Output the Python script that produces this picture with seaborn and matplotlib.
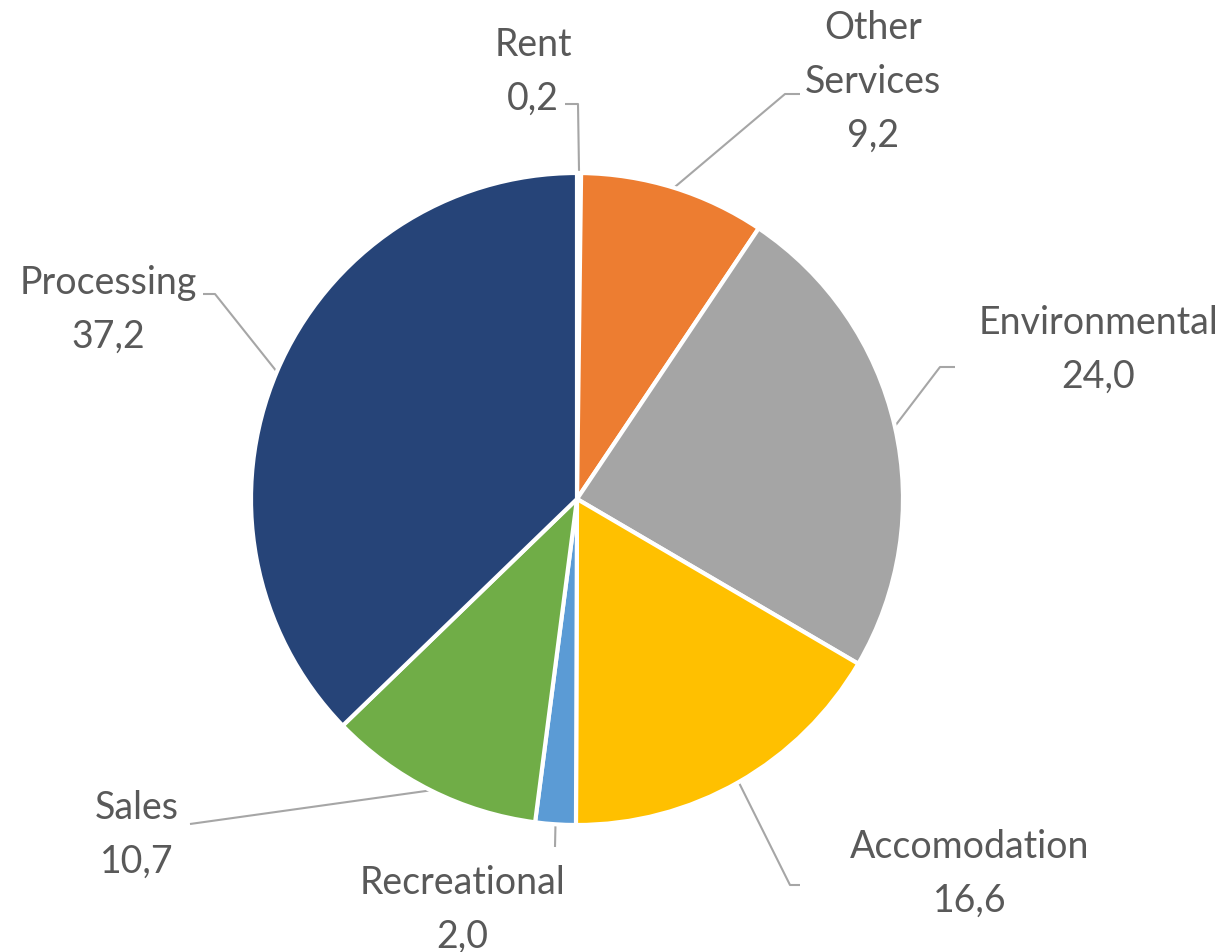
import numpy as np
import matplotlib.pyplot as plt
import seaborn as sns

# dane
categories = ["Rent", "Other\nServices", "Environmental", "Accomodation",
              "Recreational", "Sales", "Processing"]
values = [0.2, 9.2, 24.0, 16.6, 2.0, 10.7, 37.2]
value_labels = ["0,2", "9,2", "24,0", "16,6", "2,0", "10,7", "37,2"]
colors = ["#4472C4", "#ED7D31", "#A5A5A5", "#FFC000", "#5B9BD5", "#70AD47", "#264478"]

# paigutus pikslites (pildi koordinaadid): tekst ja murdepunkt
W, H = 1230, 953
CX, CY, R = 577, 500, 326
text_pos = [(533, 72), (873, 82), (1098, 350), (970, 874),
            (462, 910), (137, 835), (108, 310)]
elbows = [[(578, 105), (565, 105)],
          [(785, 95), (800, 95)],
          [(940, 368), (955, 368)],
          [(790, 886), (800, 886)],
          [(555, 848)],
          [(190, 825)],
          [(215, 295), (203, 295)]]


def px(p):
    return ((p[0] - CX) / R, (CY - p[1]) / R)


sns.set_theme(style="white")
plt.rcParams["font.family"] = ["Lato", "DejaVu Sans"]

fig = plt.figure(figsize=(W / 100, H / 100), dpi=100)
ax = fig.add_axes([0, 0, 1, 1])

wedges, _ = ax.pie(values, colors=colors, startangle=90, counterclock=False,
                   radius=1, center=(0, 0),
                   wedgeprops=dict(edgecolor="white", linewidth=3))

for w, name, val, tp, el in zip(wedges, categories, value_labels, text_pos, elbows):
    mid = np.deg2rad((w.theta1 + w.theta2) / 2)
    pts = [(np.cos(mid), np.sin(mid))] + [px(p) for p in el]
    xs, ys = zip(*pts)
    ax.plot(xs, ys, color="#A6A6A6", lw=1.5, solid_capstyle="butt", zorder=0)
    tx, ty = px(tp)
    ax.text(tx, ty, name + "\n" + val, ha="center", va="center",
            fontsize=27, color="#595959", linespacing=1.62)

ax.set_xlim(-CX / R, (W - CX) / R)
ax.set_ylim(-(H - CY) / R, CY / R)
ax.set_aspect("equal")
ax.axis("off")

fig.savefig("out.png", dpi=100)
